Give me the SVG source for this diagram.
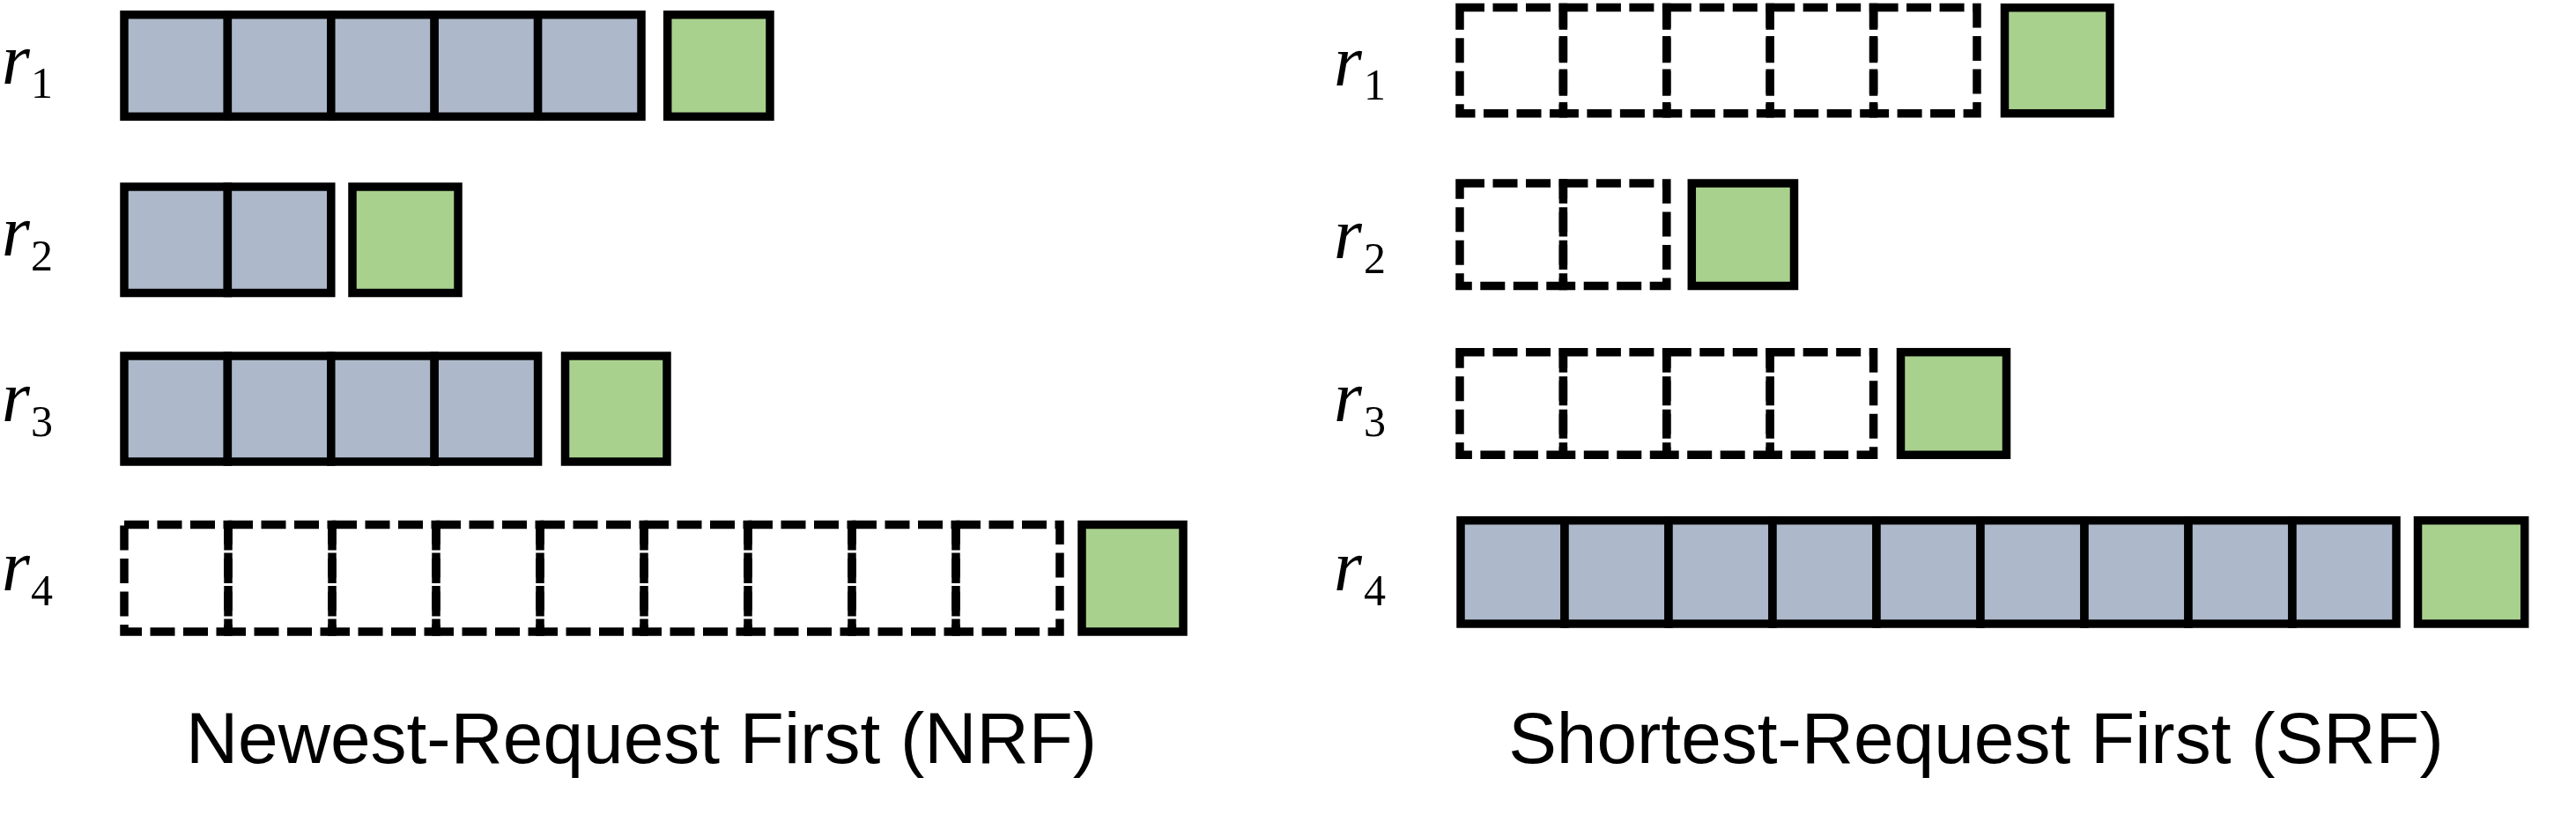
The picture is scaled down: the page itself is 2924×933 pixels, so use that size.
<svg xmlns="http://www.w3.org/2000/svg" width="2924" height="933" viewBox="0 0 2924 933">
<style>
.g{fill:#ADB9CA;stroke:#000;stroke-width:9.5}
.gr{fill:#A9D18E;stroke:#000;stroke-width:9.5}
.d{fill:none;stroke:#000;stroke-width:9.5;stroke-dasharray:28 9.5}
.r{font-family:"Liberation Serif",serif;font-style:italic;font-size:82px;fill:#000}
.s{font-family:"Liberation Serif",serif;font-size:50px;fill:#000}
.t{font-family:"Liberation Sans",Arial,sans-serif;font-size:82px;fill:#000;text-anchor:middle}
</style>
<rect width="2924" height="933" fill="#fff"/>
<g id="connectors"/>
<g id="nrf">
  <g id="nrf-r1">
    <text class="r" x="2" y="95">r</text><text class="s" x="35" y="111">1</text>
    <rect class="g" x="141" y="16.7" width="117.4" height="115.6"/>
    <rect class="g" x="258.4" y="16.7" width="117.4" height="115.6"/>
    <rect class="g" x="375.8" y="16.7" width="117.4" height="115.6"/>
    <rect class="g" x="493.2" y="16.7" width="117.4" height="115.6"/>
    <rect class="g" x="610.6" y="16.7" width="117.4" height="115.6"/>
    <rect class="gr" x="757.7" y="16.7" width="116.3" height="115.6"/>
  </g>
  <g id="nrf-r2">
    <text class="r" x="2" y="290">r</text><text class="s" x="35" y="307">2</text>
    <rect class="g" x="141" y="212" width="117.4" height="120.5"/>
    <rect class="g" x="258.4" y="212" width="117.4" height="120.5"/>
    <rect class="gr" x="400" y="212" width="120" height="120.5"/>
  </g>
  <g id="nrf-r3">
    <text class="r" x="2" y="478">r</text><text class="s" x="35" y="495">3</text>
    <rect class="g" x="141" y="404" width="117.4" height="120"/>
    <rect class="g" x="258.4" y="404" width="117.4" height="120"/>
    <rect class="g" x="375.8" y="404" width="117.4" height="120"/>
    <rect class="g" x="493.2" y="404" width="117.4" height="120"/>
    <rect class="gr" x="641.5" y="404" width="115.5" height="120"/>
  </g>
  <g id="nrf-r4">
    <text class="r" x="2" y="670">r</text><text class="s" x="35" y="687">4</text>
    <rect class="d" x="141" y="595.5" width="118" height="121.5"/>
    <rect class="d" x="259" y="595.5" width="118" height="121.5"/>
    <rect class="d" x="377" y="595.5" width="118" height="121.5"/>
    <rect class="d" x="495" y="595.5" width="118" height="121.5"/>
    <rect class="d" x="613" y="595.5" width="118" height="121.5"/>
    <rect class="d" x="731" y="595.5" width="118" height="121.5"/>
    <rect class="d" x="849" y="595.5" width="118" height="121.5"/>
    <rect class="d" x="967" y="595.5" width="118" height="121.5"/>
    <rect class="d" x="1085" y="595.5" width="118" height="121.5"/>
    <rect class="gr" x="1228" y="595.5" width="115" height="121.5"/>
  </g>
  <text class="t" x="728" y="866">Newest-Request First (NRF)</text>
</g>
<g id="srf">
  <g id="srf-r1">
    <text class="r" x="1514" y="97">r</text><text class="s" x="1548" y="113">1</text>
    <rect class="d" x="1657" y="8.5" width="117.4" height="120.2"/>
    <rect class="d" x="1774.4" y="8.5" width="117.4" height="120.2"/>
    <rect class="d" x="1891.8" y="8.5" width="117.4" height="120.2"/>
    <rect class="d" x="2009.2" y="8.5" width="117.4" height="120.2"/>
    <rect class="d" x="2126.6" y="8.5" width="117.4" height="120.2"/>
    <rect class="gr" x="2275.5" y="8.7" width="119.5" height="120"/>
  </g>
  <g id="srf-r2">
    <text class="r" x="1514" y="293">r</text><text class="s" x="1548" y="310">2</text>
    <rect class="d" x="1657" y="208" width="117.4" height="116.5"/>
    <rect class="d" x="1774.4" y="208" width="117.4" height="116.5"/>
    <rect class="gr" x="1920.3" y="208" width="116.2" height="116.5"/>
  </g>
  <g id="srf-r3">
    <text class="r" x="1514" y="478">r</text><text class="s" x="1548" y="495">3</text>
    <rect class="d" x="1657" y="399.7" width="117.4" height="116.6"/>
    <rect class="d" x="1774.4" y="399.7" width="117.4" height="116.6"/>
    <rect class="d" x="1891.8" y="399.7" width="117.4" height="116.6"/>
    <rect class="d" x="2009.2" y="399.7" width="117.4" height="116.6"/>
    <rect class="gr" x="2157.5" y="399.7" width="120" height="116.6"/>
  </g>
  <g id="srf-r4">
    <text class="r" x="1514" y="670">r</text><text class="s" x="1548" y="687">4</text>
    <rect class="g" x="1658" y="590.7" width="118" height="117.3"/>
    <rect class="g" x="1776" y="590.7" width="118" height="117.3"/>
    <rect class="g" x="1894" y="590.7" width="118" height="117.3"/>
    <rect class="g" x="2012" y="590.7" width="118" height="117.3"/>
    <rect class="g" x="2130" y="590.7" width="118" height="117.3"/>
    <rect class="g" x="2248" y="590.7" width="118" height="117.3"/>
    <rect class="g" x="2366" y="590.7" width="118" height="117.3"/>
    <rect class="g" x="2484" y="590.7" width="118" height="117.3"/>
    <rect class="g" x="2602" y="590.7" width="118" height="117.3"/>
    <rect class="gr" x="2744.5" y="590.7" width="121.2" height="117.3"/>
  </g>
  <text class="t" x="2243" y="866">Shortest-Request First (SRF)</text>
</g>
</svg>
